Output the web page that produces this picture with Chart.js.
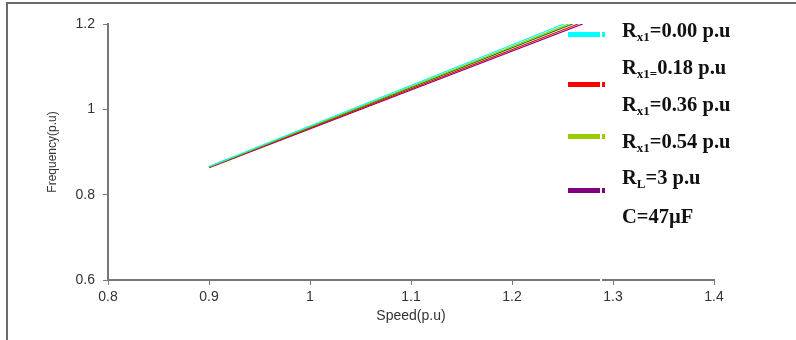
<!DOCTYPE html>
<html>
<head>
<meta charset="utf-8">
<script src="https://cdn.jsdelivr.net/npm/chart.js@4"></script>
<style>
  body { margin: 0; background: #fff; }
  #wrap { position: relative; width: 796px; height: 340px; overflow: hidden; }
  #frame { position: absolute; left: 6px; top: 2px; width: 800px; height: 400px;
           border-top: 2px solid #6a6a6a; border-left: 2px solid #6a6a6a; }
  .leg { position: absolute; left: 622px; font: bold 20.5px "Liberation Serif", "Times New Roman", serif;
         color: #111; white-space: nowrap; line-height: 1; }
  .leg sub { font-size: 13px; vertical-align: -4px; }
  .mark { position: absolute; left: 568px; width: 37px; height: 5px; }
  #cut { position: absolute; left: 600px; width: 2px; top: 20px; height: 270px; background: #fff; }
</style>
</head>
<body>
<div id="wrap">
  <canvas id="chart"></canvas>
  <div id="frame"></div>
  <div id="legend"></div>
  <div id="cut"></div>
</div>
<script>
// Speed (p.u) vs Frequency (p.u) - line start and end
const colors = ['#00ffff', '#99cc00', '#008000', '#ff0000', '#800080'];
const speedS = [0.9, 0.9, 0.9, 0.9, 0.9];
const freqS  = [0.866, 0.865, 0.865, 0.864, 0.863];
const speedE = [1.2515, 1.256, 1.26, 1.2655, 1.27];
const freqE  = [1.2, 1.2, 1.2, 1.2, 1.2];

const xTicks = [0.8, 0.9, 1, 1.1, 1.2, 1.3, 1.4];
const yTicks = [0.6, 0.8, 1, 1.2];

// legend text (html for subscripts)
const legendText = [
    'R<sub>x1</sub>=0.00 p.u',
    'R<sub>x1=</sub>0.18 p.u',
    'R<sub>x1</sub>=0.36 p.u',
    'R<sub>x1</sub>=0.54 p.u',
    'R<sub>L</sub>=3 p.u',
    'C=47µF'
];
const legendTop = [20, 57, 94, 131, 167, 206];
const markColors = ['#00ffff', '#ff0000', '#99cc00', '#800080'];
const markTop = [32, 82, 134, 188];

const leg = document.getElementById('legend');
legendText.forEach((t, i) => {
    const d = document.createElement('div');
    d.className = 'leg';
    d.style.top = legendTop[i] + 'px';
    d.innerHTML = t;
    leg.appendChild(d);
});
markColors.forEach((c, i) => {
    const m = document.createElement('div');
    m.className = 'mark';
    m.style.top = markTop[i] + 'px';
    m.style.background = c;
    leg.appendChild(m);
});

const datasets = colors.map((c, i) => ({
    data: [{x: speedS[i], y: freqS[i]}, {x: speedE[i], y: freqE[i]}],
    borderColor: c,
    borderWidth: 1.2,
    pointRadius: 0,
    fill: false
}));

const tickFont = { family: '"Liberation Sans", Arial, sans-serif', size: 14 };

new Chart(document.getElementById('chart'), {
    type: 'line',
    data: { datasets: datasets },
    options: {
        responsive: true,
        maintainAspectRatio: false,
        animation: false,
        layout: { padding: { left: 0, top: 24, right: 82, bottom: 0 } },
        plugins: { legend: { display: false }, tooltip: { enabled: false } },
        scales: {
            x: {
                type: 'linear', min: 0.8, max: 1.4,
                afterFit: s => { s.height = 60; },
                afterBuildTicks: s => { s.ticks = xTicks.map(v => ({ value: v })); },
                grid: { drawOnChartArea: false, drawTicks: true, tickLength: 5, color: '#777' },
                border: { display: true, color: '#777', width: 2 },
                ticks: { font: tickFont, color: '#333', padding: 4, callback: v => String(+v.toFixed(1)) },
                title: { display: true, text: 'Speed(p.u)', color: '#333',
                         font: { family: '"Liberation Sans", Arial, sans-serif', size: 14 },
                         padding: { top: 0, bottom: 15 } }
            },
            y: {
                min: 0.6, max: 1.2,
                afterFit: s => { s.width = 108; },
                afterBuildTicks: s => { s.ticks = yTicks.map(v => ({ value: v })); },
                grid: { drawOnChartArea: false, drawTicks: true, tickLength: 5, color: '#777' },
                border: { display: true, color: '#777', width: 2 },
                ticks: { font: tickFont, color: '#333', padding: 8, callback: v => String(+v.toFixed(1)) },
                title: { display: true, text: 'Frequency(p.u)', color: '#333',
                         font: { family: '"Liberation Sans Narrow", "Liberation Sans", Arial, sans-serif', size: 12 },
                         padding: { top: 45, bottom: 0 } }
            }
        }
    }
});
</script>
</body>
</html>
